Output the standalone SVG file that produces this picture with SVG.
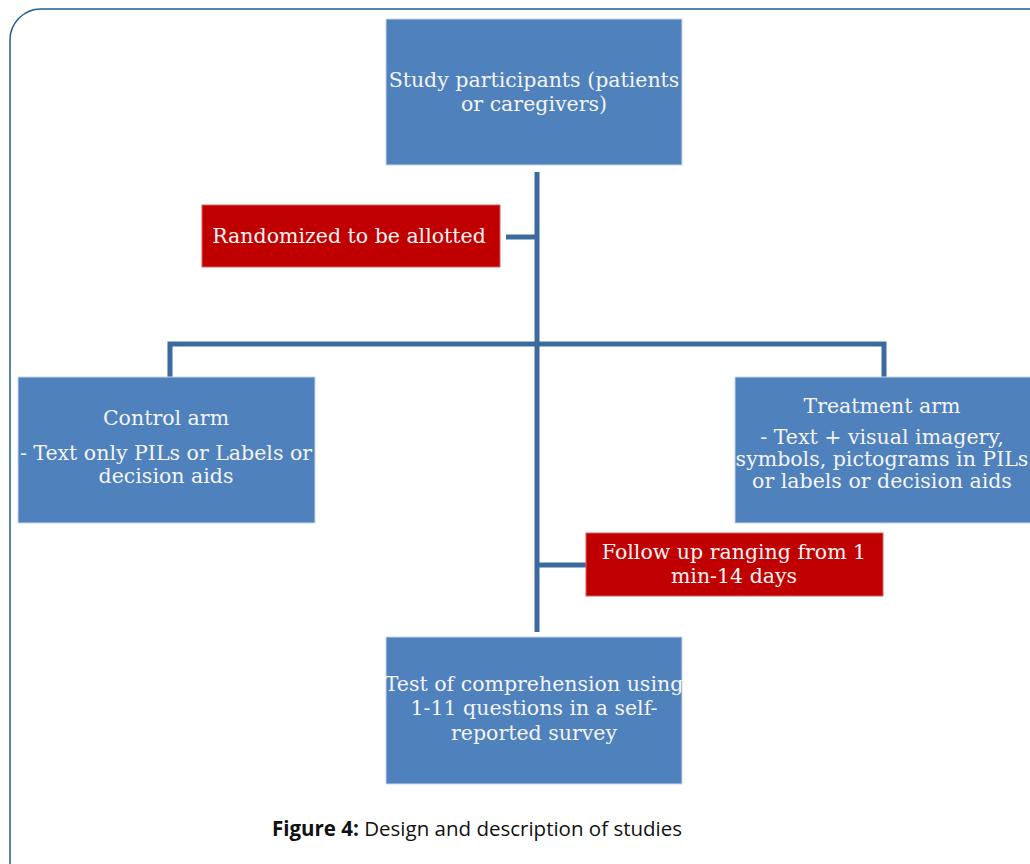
<svg xmlns="http://www.w3.org/2000/svg" width="1030" height="864" viewBox="0 0 1030 864">
<style>
.box{fill:#4f81bd;stroke:#c8d6e8;stroke-width:1}
.red{fill:#c00000;stroke:#d86060;stroke-width:1}
.t{font-family:"DejaVu Serif","Liberation Serif",serif;font-size:20.5px;fill:#f4f4f4;text-anchor:middle}
.ln{stroke:#3d6a9e;stroke-width:5;fill:none}
.cap{font-family:"Open Sans","Liberation Sans",sans-serif;font-size:20.5px;fill:#111}
</style>
<rect width="1030" height="864" fill="#fff"/>
<path d="M10,900 L10,40 A31,31 0 0 1 41,9 L1040,9" fill="none" stroke="#1f5f94" stroke-width="1.5"/>
<g id="connectors">
<path class="ln" d="M537,172 L537,632"/>
<path class="ln" d="M506,237 L537,237"/>
<path class="ln" d="M170,377 L170,344 L884,344 L884,377"/>
<path class="ln" d="M537,565 L586,565"/>
</g>
<g id="participants">
<rect class="box" x="386" y="19" width="296" height="146"/>
<text class="t" x="534" y="87">Study participants (patients</text>
<text class="t" x="534" y="111">or caregivers)</text>
</g>
<g id="randomized">
<rect class="red" x="202" y="205" width="298" height="62"/>
<text class="t" x="349" y="243">Randomized to be allotted</text>
</g>
<g id="control">
<rect class="box" x="18" y="377" width="297" height="146"/>
<text class="t" x="166" y="425">Control arm</text>
<text class="t" x="166" y="460">- Text only PILs or Labels or</text>
<text class="t" x="166" y="483">decision aids</text>
</g>
<g id="treatment">
<rect class="box" x="735" y="377" width="300" height="146"/>
<text class="t" x="882" y="413">Treatment arm</text>
<text class="t" x="882" y="444">- Text + visual imagery,</text>
<text class="t" x="882" y="466">symbols, pictograms in PILs</text>
<text class="t" x="882" y="488">or labels or decision aids</text>
</g>
<g id="followup">
<rect class="red" x="586" y="533" width="297" height="63"/>
<text class="t" x="734" y="559">Follow up ranging from 1</text>
<text class="t" x="734" y="583">min-14 days</text>
</g>
<g id="test">
<rect class="box" x="386" y="637" width="296" height="147"/>
<text class="t" x="534" y="691">Test of comprehension using</text>
<text class="t" x="534" y="715">1-11 questions in a self-</text>
<text class="t" x="534" y="740">reported survey</text>
</g>
<text class="cap" x="272" y="836"><tspan font-weight="bold">Figure 4:</tspan> Design and description of studies</text>
</svg>
